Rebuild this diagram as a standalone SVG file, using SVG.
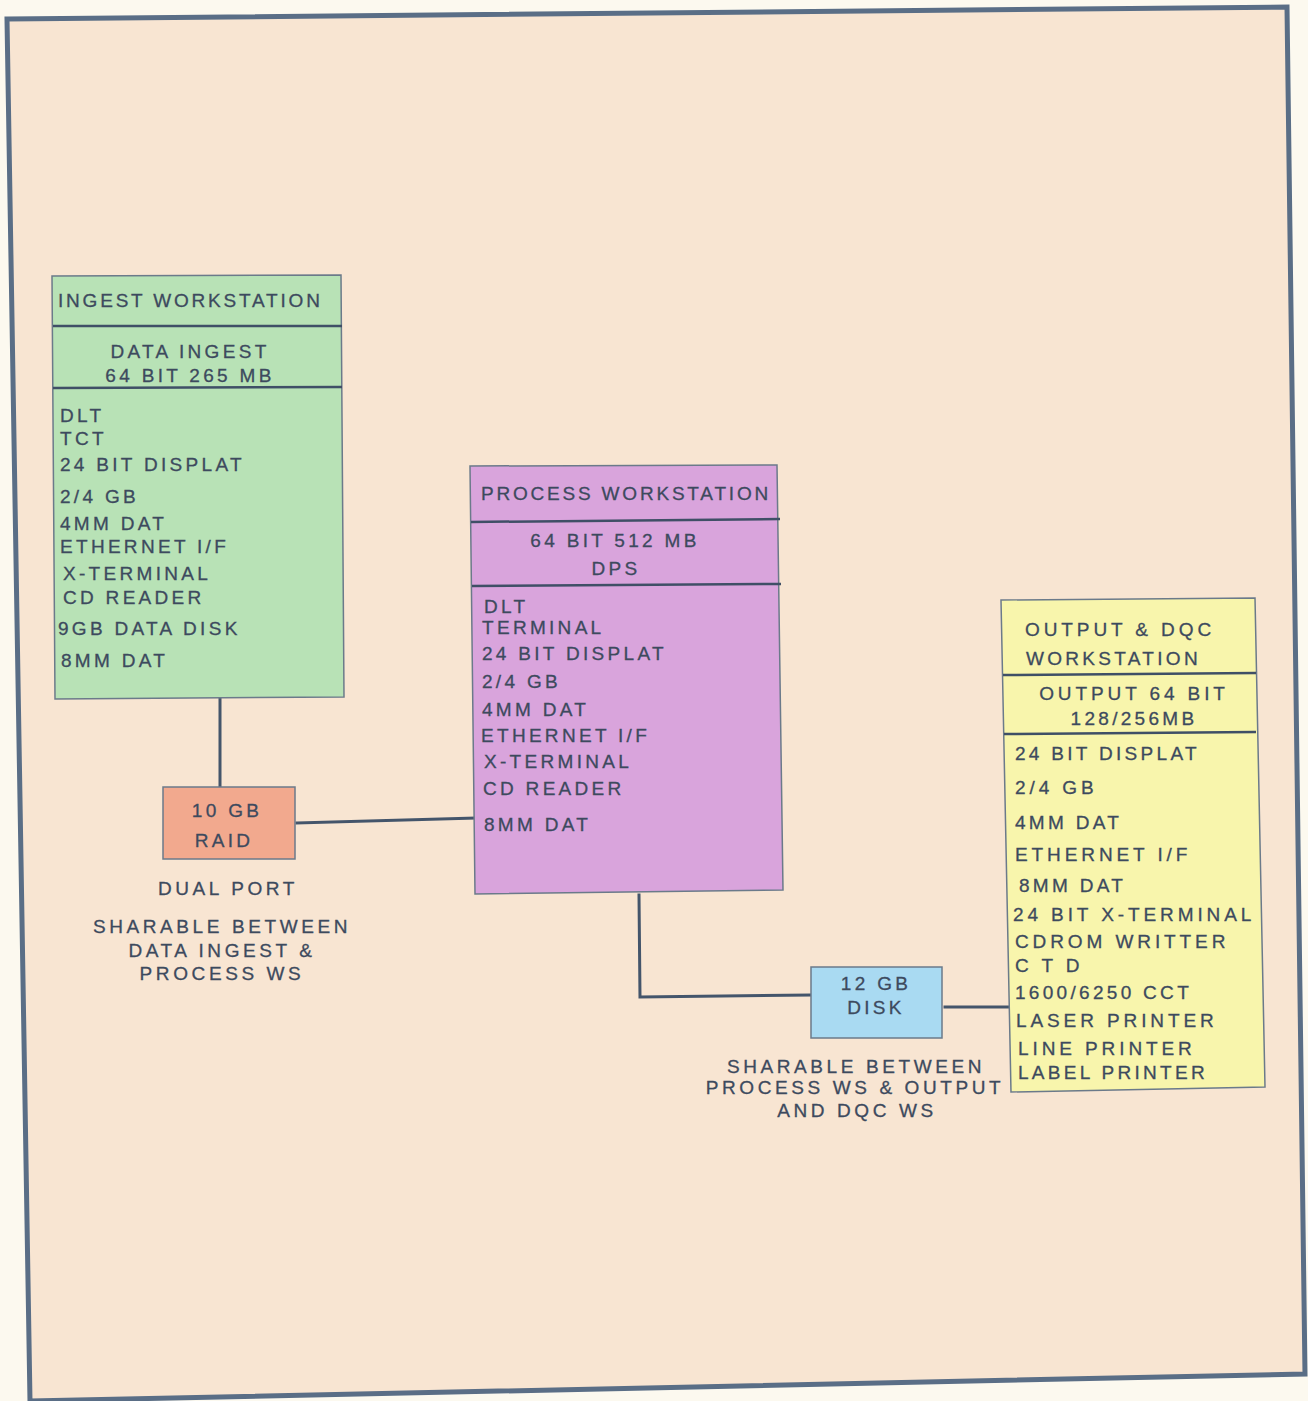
<svg xmlns="http://www.w3.org/2000/svg" width="1308" height="1401" viewBox="0 0 1308 1401">
  <style>
    .t { font-family: "Liberation Sans", Arial, sans-serif; font-size: 19px; fill: #3d4a5e; stroke: #3d4a5e; stroke-width: 0.3px; letter-spacing: 3.3px; }
    .h { letter-spacing: 2.8px; }
    .w { letter-spacing: 3.9px; }
    .cap { letter-spacing: 3.6px; }
    .c { text-anchor: middle; }
    .box { stroke: #6b7a8a; stroke-width: 1.5; }
    .sep { stroke: #3f4f66; stroke-width: 2.5; fill: none; }
    .wire { stroke: #44556b; stroke-width: 3; fill: none; stroke-linecap: square; }
  </style>

  <!-- page and frame -->
  <rect x="0" y="0" width="1308" height="1401" fill="#fcf9ef"/>
  <polygon points="7,19 1287,7 1305,1374 30,1401" fill="#f8e5d2" stroke="#5a6e86" stroke-width="5"/>

  <!-- connectors -->
  <g id="connectors">
    <line class="wire" x1="220" y1="698" x2="220" y2="787"/>
    <line class="wire" x1="297" y1="823" x2="475" y2="818"/>
    <polyline class="wire" points="639,895 640,997 810,995"/>
    <line class="wire" x1="945" y1="1007" x2="1009" y2="1007"/>
  </g>

  <!-- ingest workstation -->
  <g id="ingest-workstation">
    <polygon class="box" points="52,276 341,275 344,697 55,699" fill="#b8e2b6"/>
    <line class="sep" x1="53" y1="326" x2="342" y2="326"/>
    <line class="sep" x1="53" y1="388" x2="342" y2="387"/>
    <text class="t h" x="58" y="307">INGEST WORKSTATION</text>
    <text class="t c" x="190" y="358">DATA INGEST</text>
    <text class="t c" x="190" y="382">64 BIT 265 MB</text>
    <text class="t" x="60" y="422">DLT</text>
    <text class="t" x="60" y="445">TCT</text>
    <text class="t" x="60" y="471">24 BIT DISPLAT</text>
    <text class="t" x="60" y="503">2/4 GB</text>
    <text class="t" x="60" y="530">4MM DAT</text>
    <text class="t" x="60" y="553">ETHERNET I/F</text>
    <text class="t" x="63" y="580">X-TERMINAL</text>
    <text class="t" x="63" y="604">CD READER</text>
    <text class="t" x="58" y="635">9GB DATA DISK</text>
    <text class="t" x="61" y="667">8MM DAT</text>
  </g>

  <!-- process workstation -->
  <g id="process-workstation">
    <polygon class="box" points="470,466 777,465 783,890 475,894" fill="#d9a4dc"/>
    <line class="sep" x1="471" y1="522" x2="780" y2="519"/>
    <line class="sep" x1="472" y1="586" x2="781" y2="584"/>
    <text class="t h" x="481" y="500">PROCESS WORKSTATION</text>
    <text class="t c" x="615" y="547">64 BIT 512 MB</text>
    <text class="t c" x="616" y="575">DPS</text>
    <text class="t" x="484" y="613">DLT</text>
    <text class="t" x="482" y="634">TERMINAL</text>
    <text class="t" x="482" y="660">24 BIT DISPLAT</text>
    <text class="t" x="482" y="688">2/4 GB</text>
    <text class="t" x="482" y="716">4MM DAT</text>
    <text class="t" x="481" y="742">ETHERNET I/F</text>
    <text class="t" x="484" y="768">X-TERMINAL</text>
    <text class="t" x="483" y="795">CD READER</text>
    <text class="t" x="484" y="831">8MM DAT</text>
  </g>

  <!-- output and dqc workstation -->
  <g id="output-workstation">
    <polygon class="box" points="1001,600 1255,598 1265,1087 1011,1092" fill="#f8f5ac"/>
    <line class="sep" x1="1003" y1="675" x2="1256" y2="673"/>
    <line class="sep" x1="1004" y1="734" x2="1256" y2="732"/>
    <text class="t w" x="1025" y="636">OUTPUT &amp; DQC</text>
    <text class="t" x="1026" y="665">WORKSTATION</text>
    <text class="t w c" x="1134" y="700">OUTPUT 64 BIT</text>
    <text class="t c" x="1134" y="725">128/256MB</text>
    <text class="t" x="1015" y="760">24 BIT DISPLAT</text>
    <text class="t w" x="1015" y="794">2/4 GB</text>
    <text class="t" x="1015" y="829">4MM DAT</text>
    <text class="t w" x="1015" y="861">ETHERNET I/F</text>
    <text class="t" x="1019" y="892">8MM DAT</text>
    <text class="t w" x="1013" y="921">24 BIT X-TERMINAL</text>
    <text class="t w" x="1015" y="948">CDROM WRITTER</text>
    <text class="t w" x="1015" y="972">C T D</text>
    <text class="t" x="1015" y="999">1600/6250 CCT</text>
    <text class="t w" x="1016" y="1027">LASER PRINTER</text>
    <text class="t w" x="1018" y="1055">LINE PRINTER</text>
    <text class="t" x="1018" y="1079">LABEL PRINTER</text>
  </g>

  <!-- shared raid -->
  <g id="raid">
    <rect class="box" x="163" y="787" width="132" height="72" fill="#f2a98e"/>
    <text class="t c" x="227" y="817">10 GB</text>
    <text class="t c" x="224" y="847">RAID</text>
    <text class="t cap c" x="228" y="895">DUAL PORT</text>
    <text class="t cap c" x="222" y="933">SHARABLE BETWEEN</text>
    <text class="t cap c" x="222" y="957">DATA INGEST &amp;</text>
    <text class="t cap c" x="222" y="980">PROCESS WS</text>
  </g>

  <!-- shared disk -->
  <g id="disk">
    <rect class="box" x="811" y="967" width="131" height="71" fill="#a9daf2"/>
    <text class="t c" x="876" y="990">12 GB</text>
    <text class="t c" x="876" y="1014">DISK</text>
    <text class="t cap c" x="856" y="1073">SHARABLE BETWEEN</text>
    <text class="t cap c" x="855" y="1094">PROCESS WS &amp; OUTPUT</text>
    <text class="t cap c" x="857" y="1117">AND DQC WS</text>
  </g>
</svg>
